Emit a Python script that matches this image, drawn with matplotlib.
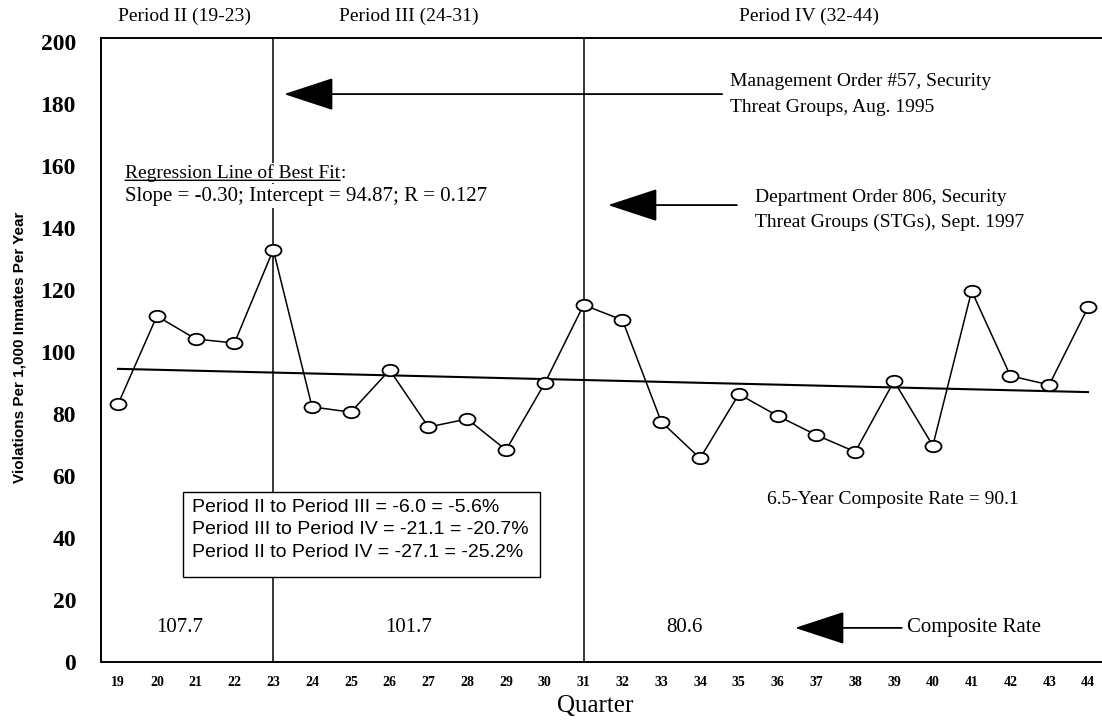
import matplotlib
matplotlib.use("Agg")
import matplotlib.pyplot as plt
from matplotlib.patches import Rectangle
from matplotlib.path import Path
from matplotlib.transforms import Affine2D

# ---------------- data ----------------
quarters = list(range(19, 45))
violation_rates = [83.2, 111.6, 104.2, 102.9, 133.0, 82.3, 80.6, 94.2, 75.8, 78.4,
                   68.4, 90.0, 115.2, 110.3, 77.5, 65.7, 86.4, 79.4, 73.2, 67.8,
                   90.6, 69.8, 119.7, 92.3, 89.4, 114.4]
reg_slope = -0.30
reg_intercept = 94.87
reg_r = 0.127
period_breaks = [23, 31]
period_names = ["Period II (19-23)", "Period III (24-31)", "Period IV (32-44)"]
period_name_x = [20.7, 26.5, 36.8]
composite_rates = ["107.7", "101.7", "80.6"]
composite_x = [20.6, 26.5, 33.6]
overall_rate = 90.1
change_lines = ["Period II to Period III = -6.0 = -5.6%",
                "Period III to Period IV = -21.1 = -20.7%",
                "Period II to Period IV = -27.1 = -25.2%"]
y_ticks = list(range(0, 201, 20))

SERIF = ["Liberation Serif", "DejaVu Serif"]
SANS = ["Liberation Sans", "DejaVu Sans"]

W, H = 1102, 721
fig = plt.figure(figsize=(W / 100, H / 100), dpi=100)
ax = fig.add_axes([101 / W, 1 - 662 / H, 1 - 101 / W, (662 - 38) / H])
ax.set_xlim(18.56, 44.36)
ax.set_ylim(0, 201.3)

for s in ["left", "bottom", "top"]:
    ax.spines[s].set_linewidth(1.4)
ax.spines["right"].set_visible(False)

# period boundary lines
for b in period_breaks:
    ax.axvline(b, color="black", lw=1.1, zorder=1)

# regression line of best fit (index 1..26)
reg = [reg_intercept + reg_slope * (q - quarters[0] + 1) for q in quarters]
ax.plot([quarters[0], quarters[-1]], [reg[0], reg[-1]], color="black", lw=1.5, zorder=2)

# data series with open elliptical markers
ellipse = Path.unit_circle().transformed(Affine2D().scale(1.4, 1.0))
ax.plot(quarters, violation_rates, color="black", lw=1.1, marker=ellipse, ms=11.5,
        mfc="white", mec="black", mew=1.3, zorder=5)

# ticks
ax.set_yticks(y_ticks)
ax.set_yticklabels([str(v) for v in y_ticks], family=SERIF, fontsize=17, fontweight="bold")
ax.set_xticks(quarters)
ax.set_xticklabels([str(q) for q in quarters], family=SERIF, fontsize=10, fontweight="bold")
ax.tick_params(axis="both", length=0)
ax.tick_params(axis="y", pad=18)
ax.tick_params(axis="x", pad=10)

fig.text(595 / W, 1 - 706 / H, "Quarter", ha="center", va="center", fontsize=18, family=SERIF)
fig.text(20 / W, 1 - 347 / H, "Violations Per 1,000 Inmates Per Year", rotation=90,
         ha="center", va="center", fontsize=11, fontweight="bold", family=SANS)

# period names above plot
for name, x in zip(period_names, period_name_x):
    ax.text(x, 208.4, name, ha="center", va="center", fontsize=14, family=SERIF, clip_on=False)

# arrows
def arrow(tip, tail):
    ax.annotate("", xy=tip, xytext=tail,
                arrowprops=dict(arrowstyle="-|>,head_length=32,head_width=10.5",
                                mutation_scale=1, lw=1.3, color="black",
                                shrinkA=0, shrinkB=0), zorder=6)

ax.text(34.77, 187.4, "Management Order #57, Security", ha="left", va="center", fontsize=14, family=SERIF)
ax.text(34.77, 179.0, "Threat Groups, Aug. 1995", ha="left", va="center", fontsize=14, family=SERIF)
arrow((23.28, 183.2), (34.57, 183.2))

ax.text(35.42, 150.0, "Department Order 806, Security", ha="left", va="center", fontsize=14, family=SERIF)
ax.text(35.42, 141.9, "Threat Groups (STGs), Sept. 1997", ha="left", va="center", fontsize=14, family=SERIF)
arrow((31.63, 147.4), (34.95, 147.4))

# regression annotation
t1 = ax.text(19.18, 157.7, "Regression Line of Best Fit", ha="left", va="center", fontsize=14,
             family=SERIF, zorder=4, bbox=dict(fc="white", ec="none", pad=1))
ax.annotate(":", xy=(1, 0.5), xycoords=t1, ha="left", va="center", fontsize=14, family=SERIF,
            zorder=6)
ax.annotate("", xy=(1, 0.1), xycoords=t1, xytext=(0, 0.1), textcoords=t1,
            arrowprops=dict(arrowstyle="-", lw=1.0, color="black", shrinkA=0, shrinkB=0),
            zorder=6)
ax.text(19.18, 150.3, f"Slope = {reg_slope:.2f}; Intercept = {reg_intercept:.2f}; R = {reg_r:.3f}",
        ha="left", va="center", fontsize=15, family=SERIF, zorder=4,
        bbox=dict(fc="white", ec="none", pad=2))

# change box
ax.add_patch(Rectangle((20.68, 27.4), 29.88 - 20.68, 54.8 - 27.4, fc="white", ec="black",
                       lw=1.0, zorder=4))
for i, line in enumerate(change_lines):
    ax.text(20.9, 50.0 - i * 7.4, line, ha="left", va="center", fontsize=14, family=SANS, zorder=5)

ax.text(38.97, 52.3, f"6.5-Year Composite Rate = {overall_rate}", ha="center", va="center",
        fontsize=14, family=SERIF)

# composite rates per period
for r, x in zip(composite_rates, composite_x):
    ax.text(x, 11.0, r, ha="center", va="center", fontsize=15, family=SERIF)
ax.text(39.33, 11.0, "Composite Rate", ha="left", va="center", fontsize=15, family=SERIF)
arrow((36.45, 11.0), (39.2, 11.0))

fig.savefig("out.png", dpi=100)
